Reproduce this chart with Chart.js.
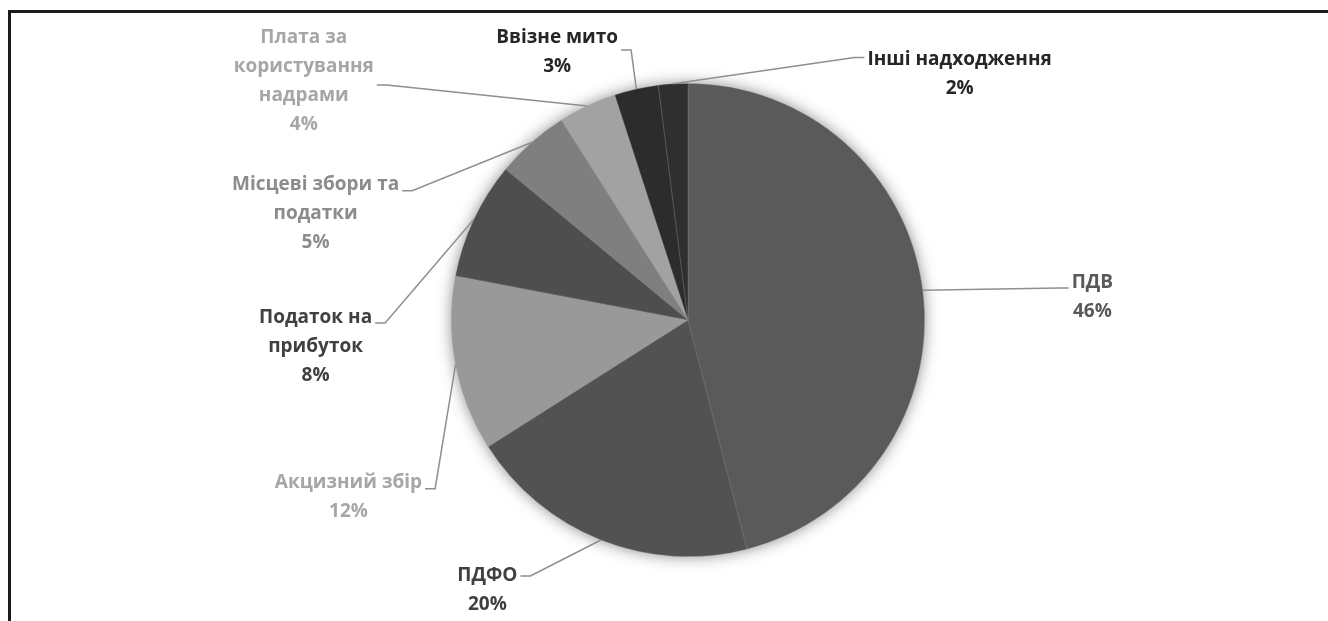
<!DOCTYPE html>
<html><head><meta charset="utf-8">
<script src="https://cdn.jsdelivr.net/npm/chart.js@4.4.1/dist/chart.umd.min.js"></script>
<style>
html,body{margin:0;padding:0;background:#fff;}
#wrap{position:relative;width:1328px;height:621px;overflow:hidden;background:#fff;}
#frame{position:absolute;left:8px;top:10px;width:1400px;height:700px;border-top:3px solid #1c1c1c;border-left:3px solid #1c1c1c;}
canvas{position:absolute;left:0;top:0;}
</style></head><body>
<div id="wrap"><div id="frame"></div><canvas id="c" width="1328" height="621"></canvas></div>
<script>
// ---- data ----
const categories = ['ПДВ','ПДФО','Акцизний збір','Податок на прибуток','Місцеві збори та податки','Плата за користування надрами','Ввізне мито','Інші надходження'];
const shares = [46, 20, 12, 8, 5, 4, 3, 2];
const labelLines = [['ПДВ'],['ПДФО'],['Акцизний збір'],['Податок на','прибуток'],['Місцеві збори та','податки'],['Плата за','користування','надрами'],['Ввізне мито'],['Інші надходження']];

// ---- styles / layout ----
const sliceColors = ['#5a5a5a','#525252','#999999','#4e4e4e','#7f7f7f','#a2a2a2','#2c2c2c','#2f2f2f'];
const labelColors = ['#595959','#404040','#a6a6a6','#404040','#8c8c8c','#a6a6a6','#262626','#262626'];
// label block centre relative to pie centre, in units of the radius
const labelOffX = [1.709, -0.848, -1.435, -1.574, -1.574, -1.624, -0.553, 1.148];
const labelOffY = [-0.095, 1.143, 0.749, 0.114, -0.449, -1.008, -1.131, -1.040];
const attachLine = [0, 0, 0, 0, 0, 1, 0, 0];
const attachDy = [5, 0, 6, 5, 6, 18, 12, -2];
const FONT = 'bold 19px "Open Sans"';
const LINE_H = 29;

const calloutPlugin = {
  id: 'callouts',
  beforeDatasetsDraw(chart) {
    const a = chart.getDatasetMeta(0).data[0];
    const ctx = chart.ctx;
    ctx.save();
    ctx.shadowColor = 'rgba(0,0,0,0.5)';
    ctx.shadowBlur = 16;
    ctx.beginPath();
    ctx.arc(a.x, a.y, a.outerRadius - 1, 0, Math.PI * 2);
    ctx.fillStyle = '#555';
    ctx.fill();
    ctx.restore();
  },
  afterDatasetsDraw(chart) {
    const ctx = chart.ctx;
    const arcs = chart.getDatasetMeta(0).data;
    ctx.save();
    ctx.font = FONT;
    ctx.textAlign = 'center';
    ctx.textBaseline = 'middle';
    arcs.forEach((arc, i) => {
      const R = arc.outerRadius;
      const mid = (arc.startAngle + arc.endAngle) / 2;
      const px = arc.x + Math.cos(mid) * R;
      const py = arc.y + Math.sin(mid) * R;
      const lines = labelLines[i].concat([shares[i] + '%']);
      const cx = arc.x + labelOffX[i] * R;
      const cy = arc.y + labelOffY[i] * R;
      const n = lines.length;
      const lineY = k => cy + (k - (n - 1) / 2) * LINE_H;
      const k = attachLine[i];
      const w = ctx.measureText(lines[k]).width;
      const right = labelOffX[i] > 0;
      const ax = right ? cx - w / 2 - 3 : cx + w / 2 + 3;
      const ay = lineY(k) + attachDy[i];
      const bx = right ? ax - 10 : ax + 10;
      ctx.beginPath();
      ctx.moveTo(ax, ay);
      ctx.lineTo(bx, ay);
      ctx.lineTo(px, py);
      ctx.strokeStyle = '#8f8f8f';
      ctx.lineWidth = 1.5;
      ctx.stroke();
      ctx.fillStyle = labelColors[i];
      lines.forEach((t, j) => ctx.fillText(t, cx, lineY(j)));
    });
    ctx.restore();
  }
};

new Chart(document.getElementById('c'), {
  type: 'pie',
  data: {
    labels: categories,
    datasets: [{
      data: shares,
      backgroundColor: sliceColors,
      borderColor: 'rgba(150,150,150,0.35)',
      borderWidth: 0.8,
      hoverOffset: 0,
      offset: 0
    }]
  },
  options: {
    responsive: false,
    devicePixelRatio: 1,
    animation: false,
    layout: { padding: { top: 83, bottom: 64, left: 48, right: 0 } },
    plugins: { legend: { display: false }, tooltip: { enabled: false } }
  },
  plugins: [calloutPlugin]
});
</script>
</body></html>
